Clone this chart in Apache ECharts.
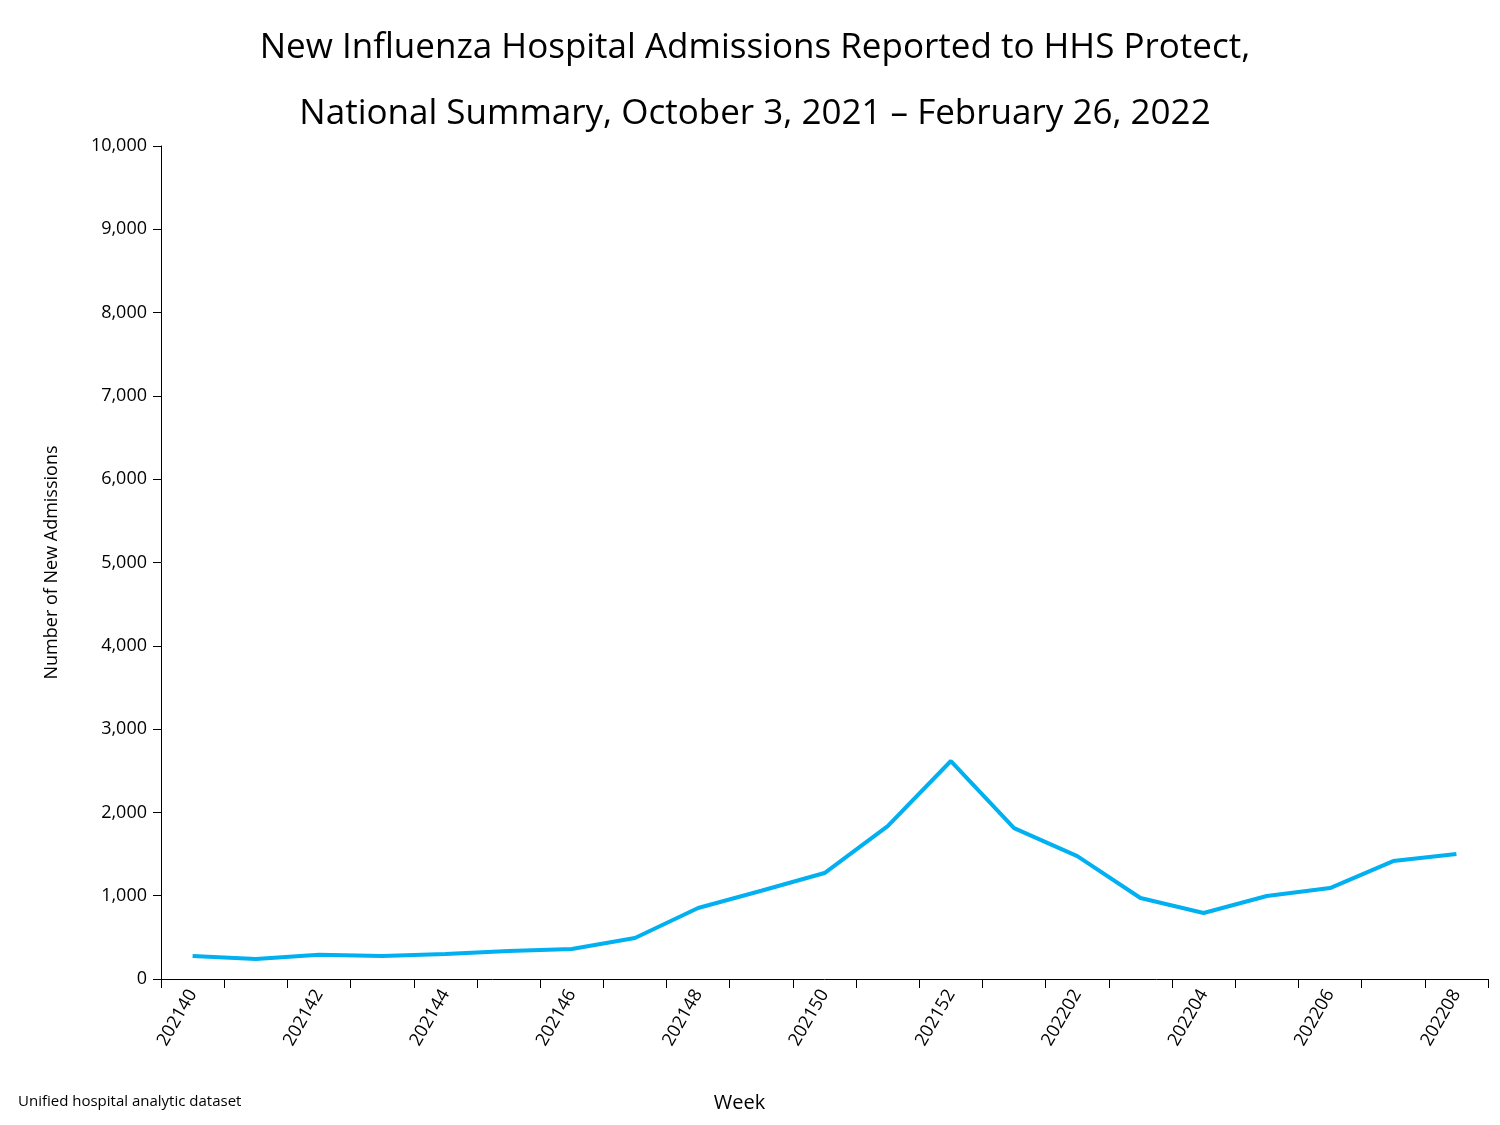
<!DOCTYPE html>
<html>
<head>
<meta charset="utf-8">
<script src="https://cdn.jsdelivr.net/npm/echarts@6/dist/echarts.min.js"></script>
<style>
  html, body { margin: 0; padding: 0; background: #fff; }
  #chart { width: 1500px; height: 1125px; }
</style>
</head>
<body>
<div id="chart"></div>
<script>
var weeks = ['202140', '202141', '202142', '202143', '202144', '202145', '202146', '202147',
  '202148', '202149', '202150', '202151', '202152', '202201', '202202', '202203',
  '202204', '202205', '202206', '202207', '202208'];
var admissions = [276, 240, 290, 276, 300, 336, 360, 492, 852, 1060, 1272, 1836, 2617,
  1812, 1476, 972, 792, 996, 1092, 1416, 1500];

var font = 'Open Sans';
var chart = echarts.init(document.getElementById('chart'));
chart.setOption({
  animation: false,
  textStyle: { fontFamily: font },
  title: {
    text: 'New Influenza Hospital Admissions Reported to HHS Protect,\nNational Summary, October 3, 2021 \u2013 February 26, 2022',
    left: 750, top: 10, textAlign: 'center',
    textStyle: { fontSize: 35, fontWeight: 'normal', color: '#000', lineHeight: 66, fontFamily: font }
  },
  graphic: [{
    type: 'text', left: 18, top: 1094,
    style: { text: 'Unified hospital analytic dataset', fontSize: 15, fill: '#000', fontFamily: font }
  }],
  grid: { left: 161, right: 12, top: 146, bottom: 146 },
  xAxis: {
    type: 'category',
    data: weeks,
    boundaryGap: true,
    name: 'Week',
    nameLocation: 'middle',
    nameGap: 114,
    nameTextStyle: { fontSize: 20, color: '#000', padding: [0, 0, 0, -170] },
    axisLine: { lineStyle: { color: '#000', width: 1 } },
    axisTick: { show: true, interval: 0, length: 9, lineStyle: { color: '#000' } },
    axisLabel: { interval: 1, rotate: 60, fontSize: 18, color: '#000', margin: 12 },
    splitLine: { show: false }
  },
  yAxis: {
    type: 'value',
    min: 0, max: 10000, interval: 1000,
    name: 'Number of New Admissions',
    nameLocation: 'middle',
    nameGap: 100,
    nameTextStyle: { fontSize: 18, color: '#000' },
    axisLine: { show: true, lineStyle: { color: '#000', width: 1 } },
    axisTick: { show: true, length: 8, lineStyle: { color: '#000' } },
    axisLabel: {
      fontSize: 18, color: '#000', margin: 14,
      formatter: function (v) { return v.toLocaleString('en-US'); }
    },
    splitLine: { show: false }
  },
  series: [{
    type: 'line',
    data: admissions,
    symbol: 'none',
    lineStyle: { color: '#00b0f0', width: 4 }
  }]
});
</script>
</body>
</html>
